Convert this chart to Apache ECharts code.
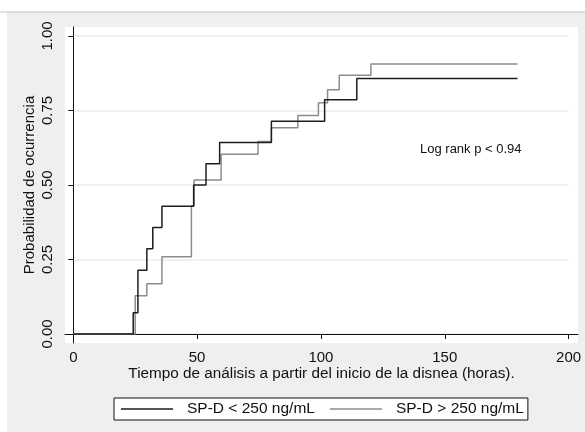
<!DOCTYPE html>
<html>
<head>
<meta charset="UTF-8">
<title>Kaplan-Meier SP-D</title>
<script src="https://cdn.jsdelivr.net/npm/echarts@6/dist/echarts.min.js"></script>
<style>
  body { margin: 0; }
  #main { width: 585px; height: 432px; }
</style>
</head>
<body>
<div id="main"></div>
<script>
// step curves: [hours, cumulative probability] at each jump
const lowHours  = [0, 24.2, 26.1, 29.7, 32.1, 35.8, 48.6, 53.6, 59.1, 80.0, 101.5, 114.5, 179.4];
const lowProb   = [0, 0.071, 0.214, 0.286, 0.357, 0.429, 0.500, 0.571, 0.643, 0.714, 0.786, 0.857, 0.857];
const highHours = [0, 25.0, 29.7, 35.8, 47.7, 48.8, 59.7, 74.6, 80.0, 90.7, 99.0, 102.7, 107.4, 120.2, 179.4];
const highProb  = [0, 0.128, 0.169, 0.259, 0.430, 0.517, 0.603, 0.646, 0.692, 0.733, 0.776, 0.820, 0.868, 0.906, 0.906];
const seriesNames = ['SP-D < 250 ng/mL', 'SP-D > 250 ng/mL'];
const xTicks = [0, 50, 100, 150, 200];
const yTicks = [0, 0.25, 0.5, 0.75, 1];

const font = 'Liberation Sans, Arial, sans-serif';
const pair = (xs, ys) => xs.map((x, i) => [x, ys[i]]);

const chart = echarts.init(document.getElementById('main'));
chart.setOption({
  backgroundColor: '#ffffff',
  animation: false,
  textStyle: { fontFamily: font },
  graphic: [
    { type: 'rect', z: -10, shape: { x: 7, y: 12, width: 585, height: 432 }, style: { fill: '#efefef' } },
    { type: 'line', z: -9, shape: { x1: 0, y1: 12, x2: 585, y2: 12 }, style: { stroke: '#c4c4c4', lineWidth: 1 } },
    { type: 'text', left: 420, top: 143, style: { text: 'Log rank p < 0.94', font: '13px ' + font, fill: '#111' } }
  ],
  grid: [
    { left: 65, right: 7, top: 27, bottom: 89, show: true, backgroundColor: '#ffffff', borderWidth: 0 },
    { left: 73.3, right: 16.5, top: 36, bottom: 98 }
  ],
  xAxis: [
    {
      gridIndex: 0, type: 'value', min: -3.35, max: 203.8, offset: 1,
      name: 'Tiempo de análisis a partir del inicio de la disnea (horas).',
      nameLocation: 'middle', nameGap: 22, nameMoveOverlap: false,
      nameTextStyle: { fontSize: 15.3, color: '#111' },
      axisLine: { show: true, lineStyle: { color: '#111', width: 1 } },
      axisTick: { show: true, length: 5, customValues: xTicks, lineStyle: { color: '#111' } },
      axisLabel: { customValues: xTicks, fontSize: 15, color: '#111', margin: 6 },
      splitLine: { show: false }
    },
    { gridIndex: 1, type: 'value', min: 0, max: 200, show: false }
  ],
  yAxis: [
    {
      gridIndex: 0, type: 'value', min: -0.0302, max: 1.0302,
      name: 'Probabilidad de ocurrencia',
      nameLocation: 'middle', nameGap: 28, nameMoveOverlap: false,
      nameTextStyle: { fontSize: 15, color: '#111' },
      axisLine: { show: true, lineStyle: { color: '#111', width: 1 } },
      axisTick: { show: true, length: 5, customValues: yTicks, lineStyle: { color: '#111' } },
      axisLabel: {
        customValues: yTicks, fontSize: 15, color: '#111', rotate: 90, margin: 10,
        formatter: v => v.toFixed(2)
      },
      splitLine: { show: false }
    },
    {
      gridIndex: 1, type: 'value', min: 0, max: 1, interval: 0.25,
      axisLine: { show: false }, axisTick: { show: false }, axisLabel: { show: false },
      splitLine: { show: true, lineStyle: { color: '#ececec', width: 1.5 } }
    }
  ],
  legend: {
    data: seriesNames,
    left: 114, top: 398,
    icon: 'rect', itemWidth: 52, itemHeight: 1.5, itemGap: 15,
    padding: [3, 4, 3, 7],
    backgroundColor: '#ffffff', borderColor: '#111', borderWidth: 1, borderRadius: 0,
    textStyle: { fontSize: 15.5, color: '#111', padding: [0, 0, 0, 9] }
  },
  series: [
    {
      name: seriesNames[0], type: 'line', step: 'end', xAxisIndex: 1, yAxisIndex: 1,
      symbol: 'none', data: pair(lowHours, lowProb), z: 3,
      itemStyle: { color: '#1e1e1e' }, lineStyle: { color: '#1e1e1e', width: 1.5 }
    },
    {
      name: seriesNames[1], type: 'line', step: 'end', xAxisIndex: 1, yAxisIndex: 1,
      symbol: 'none', data: pair(highHours, highProb), z: 2,
      itemStyle: { color: '#8c8c8c' }, lineStyle: { color: '#8c8c8c', width: 1.5 }
    }
  ]
});
</script>
</body>
</html>
